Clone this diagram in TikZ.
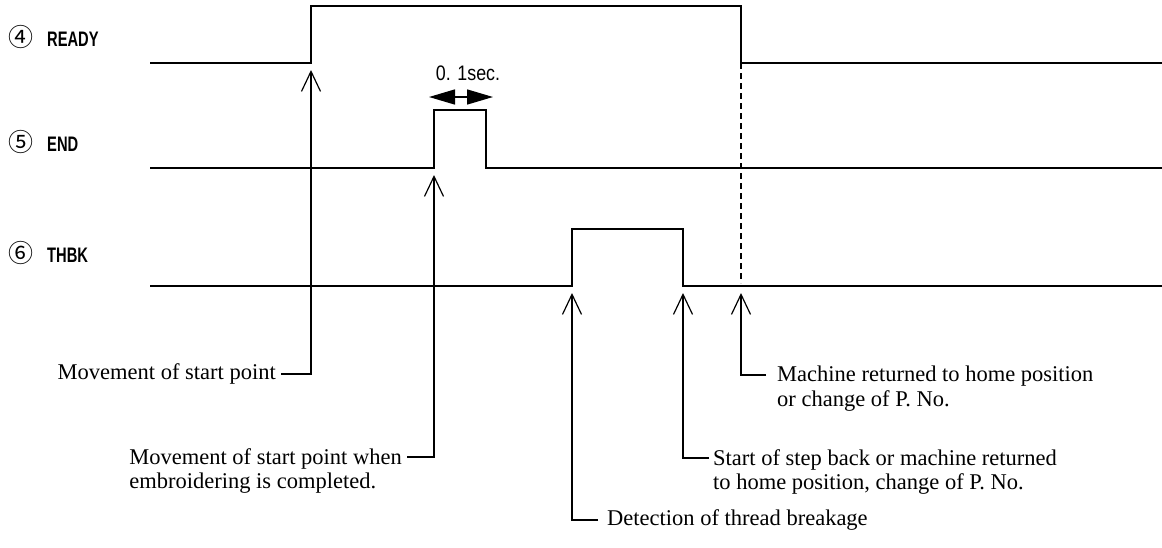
\documentclass[tikz,border=0pt]{standalone}
\usepackage{fontspec}
\setmainfont{Liberation Serif}
\newfontfamily\sigfont[FakeStretch=0.7]{Liberation Sans}
\newfontfamily\durfont[FakeStretch=0.85]{Liberation Sans}
\newfontfamily\circfont{Noto Sans CJK JP}
\usetikzlibrary{arrows.meta,positioning}

\begin{document}
\begin{tikzpicture}[
  x=1pt,y=-1pt,
  signal/.style={line width=2pt,line join=miter},
  guide/.style={line width=1.5pt,dash pattern=on 6pt off 4pt},
  pointer/.style={-{Straight Barb[length=20pt,width=19pt]},line width=1.2pt},
  note/.style={inner sep=0pt,align=left,font=\fontsize{22.5}{24.5}\selectfont},
  siglabel/.style={inner sep=0pt,anchor=base west,font=\sigfont\bfseries\fontsize{21}{24}\selectfont},
  durlabel/.style={inner sep=0pt,anchor=base,font=\durfont\fontsize{21}{24}\selectfont},
  dimarrow/.style={{Triangle[length=26pt,width=15pt]}-{Triangle[length=26pt,width=15pt]},line width=1.5pt}
]
\useasboundingbox (0,0) rectangle (1162,547);

\node[siglabel] (ready) at (8,46) {\makebox[39pt][l]{\circfont\mdseries\fontsize{25}{26}\selectfont ④}READY};
\node[siglabel] (endsig) at (8,151) {\makebox[39pt][l]{\circfont\mdseries\fontsize{25}{26}\selectfont ⑤}END};
\node[siglabel] (thbk) at (8,262) {\makebox[39pt][l]{\circfont\mdseries\fontsize{25}{26}\selectfont ⑥}THBK};

\draw[signal] (150,63) -- (311,63) -- (311,6) -- (741,6) -- (741,63) -- (1162,63);
\draw[signal] (150,168) -- (434,168) -- (434,110) -- (486,110) -- (486,168) -- (1162,168);
\draw[signal] (150,286) -- (572,286) -- (572,229) -- (683,229) -- (683,286) -- (1162,286);

\coordinate (rdydn) at (741,63);
\coordinate (guideend) at (741,283);
\draw[guide] (rdydn) -- (guideend);

\node[durlabel] (dur) at (468,80) {0. 1sec.};
\coordinate (durl) at (429,97);
\coordinate (durr) at (493,97);
\draw[dimarrow] (durl) -- (durr);

\coordinate (tip1) at (311,70);
\coordinate (tip2) at (434,175);
\coordinate (tip3) at (572,293);
\coordinate (tip4) at (683,293);
\coordinate (tip5) at (741,293);

\coordinate (j1) at (281,374);
\coordinate (j2) at (407,457);
\coordinate (j3) at (598,520);
\coordinate (j4) at (709,458);
\coordinate (j5) at (766,375);

\node[note,anchor=east] (lblstart) at ([xshift=-5pt]j1) {Movement of start point};
\node[note,anchor=north east] (lblcomplete) at ([xshift=-5pt,yshift=9pt]j2) {Movement of start point when\\embroidering is completed.};
\node[note,anchor=west] (lbldetect) at ([xshift=9pt]j3) {Detection of thread breakage};
\node[note,anchor=north west] (lblstep) at ([xshift=4pt,yshift=9pt]j4) {Start of step back or machine returned\\to home position, change of P. No.};
\node[note,anchor=north west] (lblhome) at ([xshift=11pt,yshift=9pt]j5) {Machine returned to home position\\or change of P. No.};

\draw[pointer] (j1) -| (tip1);
\draw[pointer] (j2) -| (tip2);
\draw[pointer] (j3) -| (tip3);
\draw[pointer] (j4) -| (tip4);
\draw[pointer] (j5) -| (tip5);
\end{tikzpicture}
\end{document}
